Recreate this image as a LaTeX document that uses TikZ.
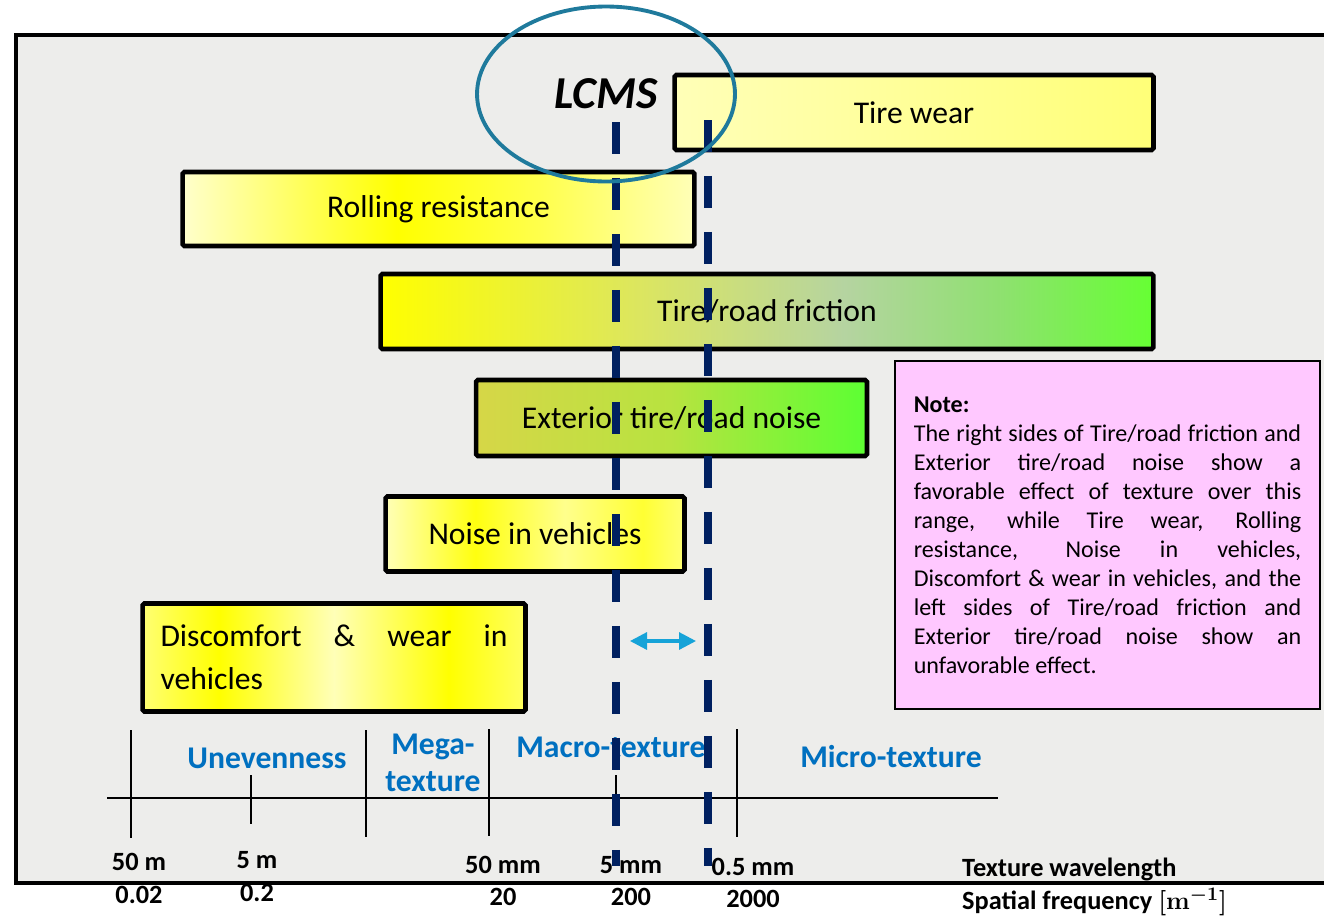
\documentclass[tikz,border=0pt]{standalone}
\usepackage{fontspec}
\setmainfont{Carlito}
\usepackage{xcolor}
\usepackage{tikz}
\usetikzlibrary{arrows.meta,shapes.geometric}
\definecolor{texgray}{RGB}{237,237,235}
\definecolor{lcmsnavy}{RGB}{0,32,96}
\definecolor{ringteal}{RGB}{31,122,156}
\definecolor{bandblue}{RGB}{0,112,192}
\definecolor{rangecyan}{RGB}{22,163,216}
\definecolor{notepink}{RGB}{255,200,255}

\pgfdeclarehorizontalshading{wearshade}{100bp}{rgb(0bp)=(1,1,0.72); rgb(25bp)=(1,1,0.72); rgb(75bp)=(1,1,0.47); rgb(100bp)=(1,1,0.47)}
\pgfdeclarehorizontalshading{rollshade}{100bp}{rgb(0bp)=(1,1,0.8); rgb(25bp)=(1,1,0.8); rgb(46bp)=(1,1,0); rgb(60bp)=(1,1,0.3); rgb(75bp)=(1,1,0.72); rgb(100bp)=(1,1,0.72)}
\pgfdeclarehorizontalshading{fricshade}{100bp}{rgb(0bp)=(1,1,0); rgb(25bp)=(1,1,0); rgb(42bp)=(0.86,0.9,0.38); rgb(55bp)=(0.71,0.83,0.63); rgb(65bp)=(0.56,0.88,0.44); rgb(75bp)=(0.4,1,0.2); rgb(100bp)=(0.4,1,0.2)}
\pgfdeclarehorizontalshading{extshade}{100bp}{rgb(0bp)=(0.84,0.84,0.28); rgb(25bp)=(0.84,0.84,0.28); rgb(50bp)=(0.72,0.89,0.25); rgb(75bp)=(0.36,1,0.2); rgb(100bp)=(0.36,1,0.2)}
\pgfdeclarehorizontalshading{vehshade}{100bp}{rgb(0bp)=(1,1,0.72); rgb(25bp)=(1,1,0.72); rgb(40bp)=(1,1,0.06); rgb(55bp)=(1,1,0.55); rgb(68bp)=(1,1,0.2); rgb(75bp)=(1,1,0.45); rgb(100bp)=(1,1,0.45)}
\pgfdeclarehorizontalshading{discshade}{100bp}{rgb(0bp)=(1,1,0.45); rgb(25bp)=(1,1,0.45); rgb(35bp)=(1,1,0); rgb(50bp)=(1,1,0.72); rgb(65bp)=(1,1,0); rgb(75bp)=(1,1,0.38); rgb(100bp)=(1,1,0.38)}

\begin{document}
\begin{tikzpicture}[x=0.02cm, y=-0.02cm,
effbox/.style={draw=black, line width=2.6pt, rounded corners=1pt, shade, inner sep=0pt,
font=\fontsize{18}{24.5}\selectfont},
notebox/.style={draw=black, line width=0.8pt, fill=notepink, minimum width=8.5cm,
minimum height=6.96cm, text width=7.75cm, align=justify, font=\fontsize{13.7}{16.5}\selectfont},
ring/.style={draw=ringteal, line width=2.2pt, ellipse, inner sep=0pt,
minimum width=5.16cm, minimum height=3.5cm, font=\bfseries\itshape\fontsize{26}{30}\selectfont},
bandlbl/.style={text=bandblue, align=center, font=\bfseries\fontsize{18}{21}\selectfont},
ticklbl/.style={font=\bfseries\fontsize{15}{18}\selectfont},
lcmsline/.style={draw=lcmsnavy, line width=4pt, dash pattern=on 0.64cm off 0.48cm},
spanarrow/.style={{Triangle[length=3.4mm,width=3.4mm]}-{Triangle[length=3.4mm,width=3.4mm]},
draw=rangecyan, line width=1.8pt}
]
\useasboundingbox (0,0) rectangle (1324,917);

% textured panel and its frame
\fill[texgray] (16,35) rectangle (1330,883);
\draw[line width=1.8pt] (1330,35) -- (16,35) -- (16,883) -- (1330,883);

\node[effbox, shading=wearshade, minimum width=9.58cm, minimum height=1.5cm] (tirewear) at (914,112.5) {Tire wear};
\node[effbox, shading=rollshade, minimum width=10.24cm, minimum height=1.48cm] (rolling) at (438.5,209) {Rolling resistance};
\node[effbox, shading=fricshade, minimum width=15.46cm, minimum height=1.5cm] (friction) at (767,311.5) {Tire/road friction};
\node[effbox, shading=extshade, minimum width=7.82cm, minimum height=1.52cm] (extnoise) at (671.5,418) {Exterior tire/road noise};
\node[effbox, shading=vehshade, minimum width=5.98cm, minimum height=1.5cm] (vehnoise) at (535,534) {Noise in vehicles};
\node[effbox, shading=discshade, minimum width=7.66cm, minimum height=2.16cm, text width=6.94cm, align=justify] (discomfort) at (334,657.5)
{Discomfort \& wear in\linebreak vehicles};

\node[notebox] (note) at (1107.5,535)
{\textbf{Note:}\\
The right sides of Tire/road friction and\linebreak
Exterior tire/road noise show a\linebreak
favorable effect of texture over this\linebreak
range, while Tire wear, Rolling\linebreak
resistance, Noise in vehicles,\linebreak
Discomfort \& wear in vehicles, and the\linebreak
left sides of Tire/road friction and\linebreak
Exterior tire/road noise show an\linebreak
unfavorable effect.};

% wavelength axis
\draw[line width=0.8pt] (107,798) -- (998,798);
\foreach \x/\a/\b in {131/730/838, 251/775/824, 366/730/837, 489/729/836, 616/775/800, 737/729/837}
  \draw[line width=0.9pt] (\x,\a) -- (\x,\b);

\node[bandlbl] (uneven) at (267,758) {Unevenness};
\node[bandlbl] (mega) at (433,763) {Mega-\\texture};
\node[bandlbl] (macro) at (611,747) {Macro-texture};
\node[bandlbl] (micro) at (891,757) {Micro-texture};

\foreach \x/\yw/\yf/\wl/\fq in {139/862/895/50 m/0.02, 257/860/893/5 m/0.2, 503/865/897/50 mm/20,
  631/865/897/5 mm/200, 753/867/899/0.5 mm/2000}{
  \node[ticklbl] at (\x,\yw) {\wl};
  \node[ticklbl] at (\x,\yf) {\fq};
}
\node[ticklbl, anchor=west] (wavelbl) at (956,869) {Texture wavelength};
\node[ticklbl, anchor=west] (freqlbl) at (956,902) {Spatial frequency {\boldmath$[\mathbf{m}^{-1}]$}};

% LCMS measuring range
\coordinate (lotop) at (616,122);
\coordinate (lobot) at (616,866);
\coordinate (hitop) at (708,120);
\coordinate (hibot) at (708,866);
\draw[lcmsline] (lotop) -- (lobot);
\draw[lcmsline] (hitop) -- (hibot);

\coordinate (spanL) at (630,641);
\coordinate (spanR) at (696,641);
\draw[spanarrow] (spanL) -- (spanR);

\node[ring] (lcms) at (606,94) {LCMS};

\end{tikzpicture}
\end{document}
